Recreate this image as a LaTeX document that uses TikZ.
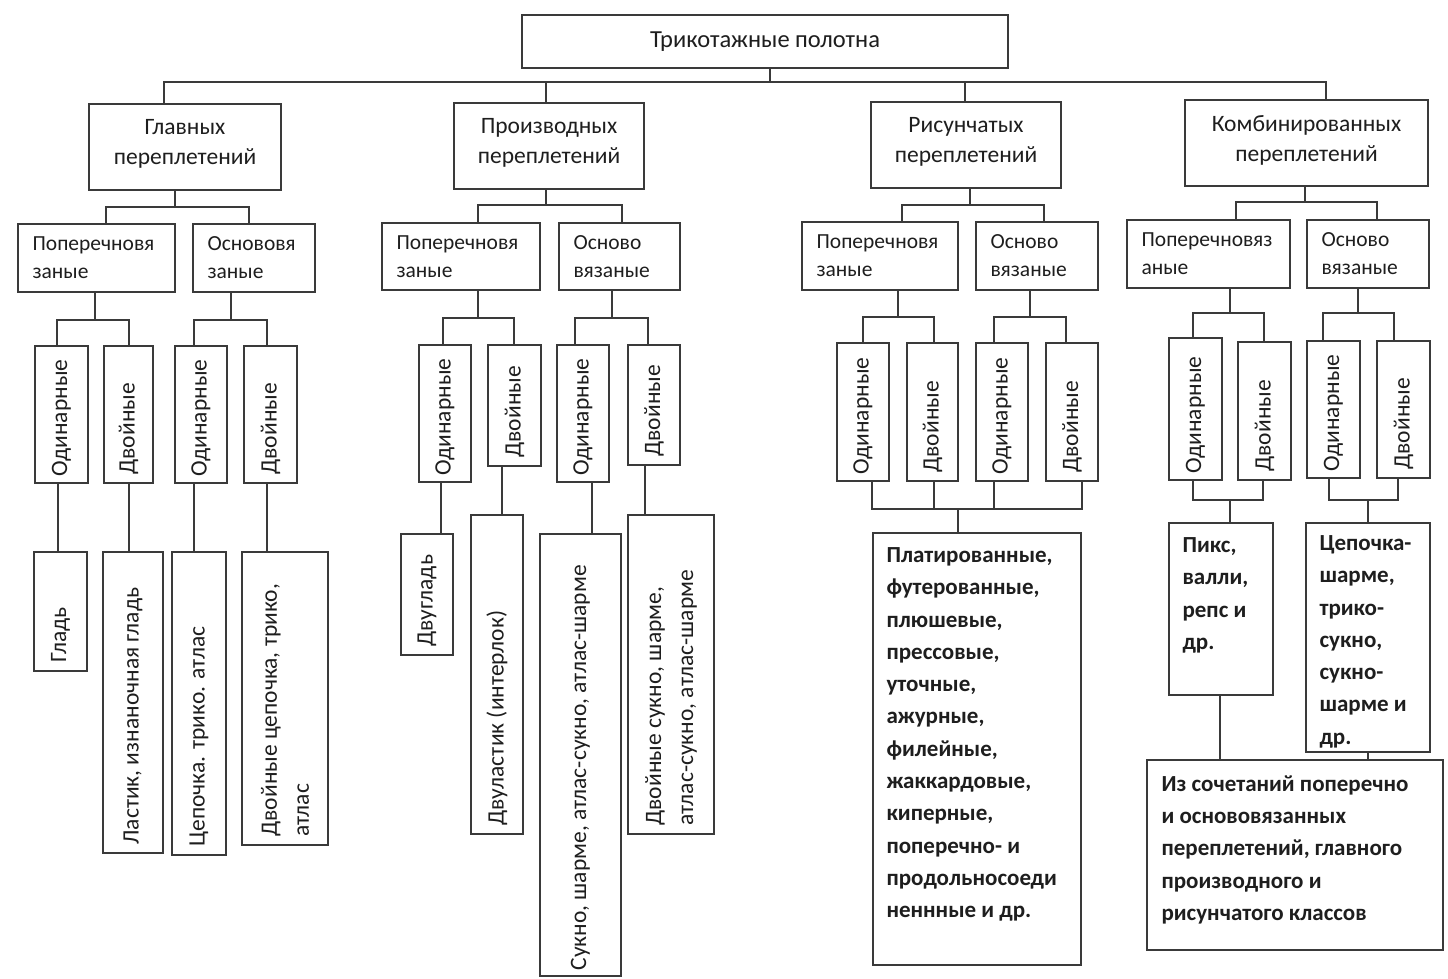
\documentclass[tikz,border=0pt]{standalone}
\usepackage{fontspec}
\setmainfont{Carlito}
\definecolor{lc}{HTML}{3A3A3A}
\definecolor{tc}{HTML}{1E1E1E}
\newcommand\bx[5]{\node[box, minimum width={(#4-#2)*1pt}, minimum height={(#5-#3)*1pt}] (#1) at ({(#2+#4)/2},{(#3+#5)/2}) {};}
% fork: parent, x parent, y bar, x a, child a, x b, child b
\newcommand\fork[7]{%
  \coordinate (fkp) at (#2,#3); \coordinate (fka) at (#4,#3); \coordinate (fkb) at (#6,#3);
  \draw[ln] (fkp |- #1.south) -- (fkp);
  \draw[ln] (fka |- #5.north) -- (fka) -- (fkb) -- (fkb |- #7.north);}
% link: x, upper node, lower node
\newcommand\lnk[3]{\coordinate (lkc) at (#1,0); \draw[ln] (lkc |- #2.south) -- (lkc |- #3.north);}
\newcommand\rlab[4][9pt]{\node[rl, rotate=90, anchor=west] (#2) at ([yshift=#1]#3.south) {#4};}
\begin{document}
\begin{tikzpicture}[x=1pt,y=-1pt,
  box/.style={draw=lc, line width=1.3pt, inner sep=0pt, fill=white},
  ln/.style={draw=lc, line width=1.3pt},
  t0/.style={text=tc, font=\fontsize{24.5}{30}\selectfont, align=center, inner sep=0pt},
  t1/.style={text=tc, font=\fontsize{23.5}{30}\selectfont, align=center, inner sep=0pt},
  t2/.style={text=tc, font=\fontsize{21.5}{28}\selectfont, align=left, inner sep=0pt, anchor=west},
  rl/.style={text=tc, font=\fontsize{23.5}{32}\selectfont, align=left, inner sep=0pt},
  tb/.style={text=tc, font=\fontsize{23}{32.3}\bfseries\selectfont, align=left, inner sep=0pt, anchor=north west}]
\useasboundingbox (0,0) rectangle (1448,979);
\fill[white] (0,0) rectangle (1448,979);

% top
\bx{T}{522}{15}{1008}{68}
\node[t0] (tT) at (T.center) {Трикотажные полотна};

% level 1
\bx{G1}{89}{104}{281}{190}
\bx{G2}{454}{103}{644}{189}
\bx{G3}{871}{102}{1061}{188}
\bx{G4}{1185}{100}{1428}{186}
\node[t1] (tG1) at ([yshift=3pt]G1.center) {Главных\\переплетений};
\node[t1] (tG2) at ([yshift=3pt]G2.center) {Производных\\переплетений};
\node[t1] (tG3) at ([yshift=3pt]G3.center) {Рисунчатых\\переплетений};
\node[t1] (tG4) at ([yshift=3pt]G4.center) {Комбинированных\\переплетений};

\coordinate (m0) at (770,82);
\coordinate (m1) at (164,82);
\coordinate (m2) at (546,82);
\coordinate (m3) at (965,82);
\coordinate (m4) at (1326,82);
\draw[ln] (m0 |- T.south) -- (m0);
\draw[ln] (m1 |- G1.north) -- (m1) -- (m4) -- (m4 |- G4.north);
\draw[ln] (m2) -- (m2 |- G2.north);
\draw[ln] (m3) -- (m3 |- G3.north);

% level 2
\bx{P1a}{18}{224}{175}{292}
\bx{P1b}{193}{224}{315}{292}
\bx{P2a}{382}{223}{540}{290}
\bx{P2b}{559}{223}{680}{290}
\bx{P3a}{802}{222}{958}{290}
\bx{P3b}{976}{222}{1098}{290}
\bx{P4a}{1127}{220}{1290}{288}
\bx{P4b}{1307}{220}{1429}{288}
\node[t2] (tP1a) at ([xshift=15pt]P1a.west) {Поперечновя\\заные};
\node[t2] (tP1b) at ([xshift=15pt]P1b.west) {Основовя\\заные};
\node[t2] (tP2a) at ([xshift=15pt]P2a.west) {Поперечновя\\заные};
\node[t2] (tP2b) at ([xshift=15pt]P2b.west) {Осново\\вязаные};
\node[t2] (tP3a) at ([xshift=15pt]P3a.west) {Поперечновя\\заные};
\node[t2] (tP3b) at ([xshift=15pt]P3b.west) {Осново\\вязаные};
\node[t2] (tP4a) at ([xshift=15pt]P4a.west) {Поперечновяз\\аные};
\node[t2] (tP4b) at ([xshift=15pt]P4b.west) {Осново\\вязаные};

\fork{G1}{175}{207}{106}{P1a}{249}{P1b}
\fork{G2}{546}{205}{478}{P2a}{622}{P2b}
\fork{G3}{970}{205}{902}{P3a}{1044}{P3b}
\fork{G4}{1305}{202}{1236}{P4a}{1377}{P4b}

% level 3
\bx{O11}{35}{346}{88}{483}
\bx{D11}{104}{346}{153}{483}
\bx{O12}{175}{346}{227}{483}
\bx{D12}{244}{346}{297}{483}
\bx{O21}{419}{345}{471}{482}
\bx{D21}{488}{345}{541}{466}
\bx{O22}{557}{345}{609}{482}
\bx{D22}{628}{345}{680}{465}
\bx{O31}{837}{343}{889}{481}
\bx{D31}{907}{343}{958}{481}
\bx{O32}{976}{343}{1028}{481}
\bx{D32}{1046}{343}{1098}{481}
\bx{O41}{1169}{338}{1222}{480}
\bx{D41}{1238}{342}{1291}{480}
\bx{O42}{1307}{341}{1360}{478}
\bx{D42}{1377}{341}{1430}{478}
\foreach \n in {O11,O12,O21,O22,O31,O32,O41,O42}{\rlab[7pt]{t\n}{\n}{Одинарные}}
\foreach \n in {D11,D12,D21,D22,D31,D32,D41,D42}{\rlab{t\n}{\n}{Двойные}}

\fork{P1a}{95}{320}{57}{O11}{129}{D11}
\fork{P1b}{231}{320}{194}{O12}{267}{D12}
\fork{P2a}{478}{318}{443}{O21}{514}{D21}
\fork{P2b}{612}{318}{575}{O22}{648}{D22}
\fork{P3a}{898}{317}{863}{O31}{934}{D31}
\fork{P3b}{1030}{317}{994}{O32}{1066}{D32}
\fork{P4a}{1230}{313}{1193}{O41}{1264}{D41}
\fork{P4b}{1358}{313}{1323}{O42}{1394}{D42}

% level 4 : main
\bx{L11}{34}{552}{87}{671}
\bx{L12}{103}{552}{163}{853}
\bx{L13}{172}{552}{226}{855}
\bx{L14}{242}{552}{328}{845}
\rlab{tL11}{L11}{Гладь}
\rlab{tL12}{L12}{Ластик, изнаночная гладь}
\rlab{tL13}{L13}{Цепочка. трико. атлас}
\rlab{tL14}{L14}{Двойные цепочка, трико,\\атлас}
\lnk{58}{O11}{L11}
\lnk{129}{D11}{L12}
\lnk{194}{O12}{L13}
\lnk{267}{D12}{L14}

% level 4 : derived
\bx{L21}{401}{534}{453}{655}
\bx{L22}{471}{515}{523}{834}
\bx{L23}{540}{534}{621}{976}
\bx{L24}{628}{515}{714}{834}
\rlab{tL21}{L21}{Двугладь}
\rlab{tL22}{L22}{Двуластик (интерлок)}
\rlab[6pt]{tL23}{L23}{Сукно, шарме, атлас-сукно, атлас-шарме}
\rlab{tL24}{L24}{Двойные сукно, шарме,\\атлас-сукно, атлас-шарме}
\lnk{441}{O21}{L21}
\lnk{502}{D21}{L22}
\lnk{592}{O22}{L23}
\lnk{645}{D22}{L24}

% level 4 : pattern
\bx{L3}{873}{533}{1081}{965}
\node[tb] (tL3) at ([xshift=14pt,yshift=-15pt]L3.north west) {Платированные,\\футерованные,\\плюшевые,\\прессовые,\\уточные,\\ажурные,\\филейные,\\жаккардовые,\\киперные,\\поперечно- и\\продольносоеди\\неннные и др.};
\coordinate (r1) at (872,509);
\coordinate (r2) at (934,509);
\coordinate (r3) at (994,509);
\coordinate (r4) at (1082,509);
\coordinate (r0) at (958,509);
\draw[ln] (r1 |- O31.south) -- (r1) -- (r4) -- (r4 |- D32.south);
\draw[ln] (r2 |- D31.south) -- (r2);
\draw[ln] (r3 |- O32.south) -- (r3);
\draw[ln] (r0) -- (r0 |- L3.north);

% level 4 : combined
\bx{L41}{1169}{523}{1273}{695}
\bx{L42}{1306}{523}{1430}{752}
\bx{L5}{1147}{760}{1443}{950}
\node[tb] (tL41) at ([xshift=14pt,yshift=-15pt]L41.north west) {Пикс,\\валли,\\репс и\\др.};
\node[tb] (tL42) at ([xshift=14pt,yshift=-13pt]L42.north west) {Цепочка-\\шарме,\\трико-\\сукно,\\сукно-\\шарме и\\др.};
\node[tb] (tL5) at ([xshift=15pt,yshift=-16pt]L5.north west) {Из сочетаний поперечно\\и основовязанных\\переплетений, главного\\производного и\\рисунчатого классов};
\coordinate (k1) at (1193,500);
\coordinate (k2) at (1263,500);
\coordinate (k0) at (1230,500);
\draw[ln] (k1 |- O41.south) -- (k1) -- (k2) -- (k2 |- D41.south);
\draw[ln] (k0) -- (k0 |- L41.north);
\coordinate (k3) at (1329,500);
\coordinate (k4) at (1398,500);
\coordinate (k5) at (1368,500);
\draw[ln] (k3 |- O42.south) -- (k3) -- (k4) -- (k4 |- D42.south);
\draw[ln] (k5) -- (k5 |- L42.north);
\lnk{1220}{L41}{L5}
\lnk{1368}{L42}{L5}
\end{tikzpicture}
\end{document}
